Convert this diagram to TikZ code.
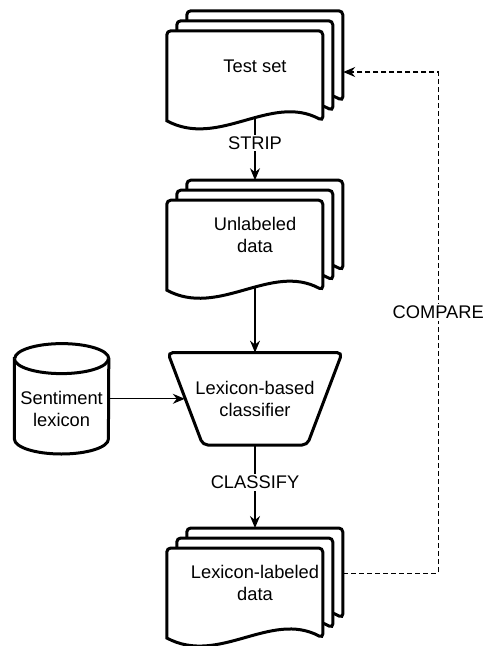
\documentclass[tikz,border=0pt]{standalone}
\usepackage{fontspec}
\setmainfont{Liberation Sans}
\usetikzlibrary{arrows.meta, positioning, backgrounds}

% one sheet of a document stack, #1 = its top left corner
\newcommand{\docsheet}[1]{%
  \draw[sheet] ([yshift=-90pt]#1) [rounded corners=4pt] -- (#1) -- ([xshift=156pt]#1)
    -- ([xshift=156pt, yshift=-90pt]#1) [sharp corners]
    .. controls +(-52pt,28pt) and +(52pt,-28pt) .. ([yshift=-90pt]#1) -- cycle;
}

% three sheets behind a stack node, back one first
\newcommand{\docstack}[1]{%
  \coordinate (#1-back) at ([xshift=20pt]#1.north west);
  \coordinate (#1-mid) at ([xshift=10pt, yshift=-10pt]#1.north west);
  \coordinate (#1-front) at ([yshift=-20pt]#1.north west);
  \begin{pgfonlayer}{background}
    \docsheet{#1-back}
    \docsheet{#1-mid}
    \docsheet{#1-front}
  \end{pgfonlayer}
}

% drum outline round a store node
\newcommand{\drum}[1]{%
  \begin{pgfonlayer}{background}
    \draw[sheet] ([yshift=-15pt]#1.north west) -- ([yshift=15pt]#1.south west)
      arc[start angle=180, end angle=360, x radius=47pt, y radius=15pt]
      -- ([yshift=-15pt]#1.north east)
      arc[start angle=0, end angle=180, x radius=47pt, y radius=15pt] -- cycle;
    \draw[sheet] ([yshift=-15pt]#1.north west)
      arc[start angle=180, end angle=360, x radius=47pt, y radius=15pt];
  \end{pgfonlayer}
}

% funnel outline round a process node, narrow side down
\newcommand{\funnel}[1]{%
  \begin{pgfonlayer}{background}
    \draw[sheet, rounded corners=5pt] (#1.north west) -- (#1.north east)
      -- ([xshift=-35pt]#1.south east) -- ([xshift=35pt]#1.south west) -- cycle;
  \end{pgfonlayer}
}

\begin{document}
\begin{tikzpicture}[
      every node/.style={font=\fontsize{18.3pt}{22pt}\selectfont},
      sheet/.style={draw=black, line width=3pt, fill=white},
      stack/.style={minimum width=176pt, minimum height=110pt, inner sep=0pt, align=center},
      proc/.style={minimum width=174pt, minimum height=92pt, inner sep=0pt, align=center},
      store/.style={minimum width=94pt, minimum height=110pt, inner sep=0pt},
      arrow/.style={-{Stealth[length=12pt, width=10pt, inset=4pt]}, line width=1.2pt},
      dashline/.style={arrow, dash pattern=on 5pt off 3pt},
      tag/.style={fill=white, inner sep=2pt}
    ]

      \useasboundingbox (0,0) rectangle (488pt,-646pt);

      % Document stacks and the classifier
      \node[stack] (testset) at (255pt,-66pt) {Test set};
      \node[stack, below=59pt of testset] (unlab) {Unlabeled\\data};
      \node[proc, below=62pt of unlab] (classifier) {Lexicon-based\\classifier};
      \node[stack, below=83pt of classifier] (lexlab) {Lexicon-labeled\\data};

      % Lexicon store on the left, its text sits low in the body
      \node[store, left=59pt of classifier,
            label={[align=center, yshift=-10pt]center:Sentiment\\lexicon}] (lexicon) {};

      % Outlines behind the nodes
      \docstack{testset}
      \docstack{unlab}
      \docstack{lexlab}
      \drum{lexicon}
      \funnel{classifier}

      % Main flow
      \draw[arrow] ([yshift=3pt]testset.south) -- node[tag, pos=0.4] {STRIP} (unlab.north);
      \draw[arrow] ([yshift=3pt]unlab.south) -- (classifier.north);
      \draw[arrow] (lexicon) -- ([xshift=17pt]classifier.west);
      \draw[arrow] (classifier.south) -- node[tag, pos=0.45] {CLASSIFY} (lexlab.north);

      % Feedback to the test set
      \draw[dashline] ([yshift=10pt]lexlab.east) -- ++(95pt,0)
        |- node[tag, pos=0.26] {COMPARE} ([yshift=-6pt]testset.east);

    \end{tikzpicture}
\end{document}
